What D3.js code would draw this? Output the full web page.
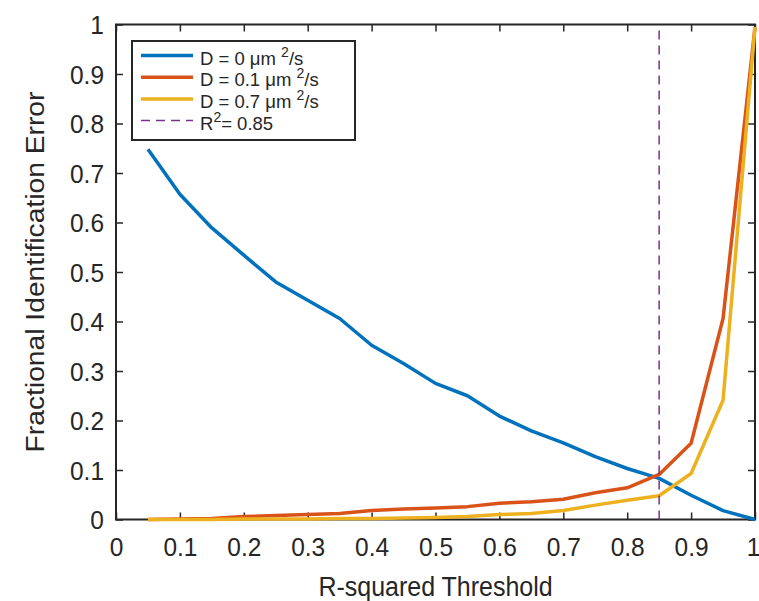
<!DOCTYPE html>
<html>
<head>
<meta charset="utf-8">
<script src="https://cdn.jsdelivr.net/npm/d3@7"></script>
<style>
  body { margin: 0; background: #fff; }
  svg { font-family: "Liberation Sans", Arial, sans-serif; }
</style>
</head>
<body>
<svg id="chart" width="759" height="601"></svg>
<script>
// thresholds and series
const thresholds = [0.05, 0.1, 0.15, 0.2, 0.25, 0.3, 0.35, 0.4, 0.45, 0.5,
  0.55, 0.6, 0.65, 0.7, 0.75, 0.8, 0.85, 0.9, 0.95, 1.0];
const errD0 = [0.748, 0.657, 0.589, 0.534, 0.480, 0.443, 0.406, 0.352, 0.315, 0.275,
  0.250, 0.209, 0.179, 0.155, 0.127, 0.103, 0.083, 0.049, 0.018, 0.0];
const errD01 = [0.0, 0.001, 0.002, 0.006, 0.008, 0.010, 0.012, 0.018, 0.021, 0.023,
  0.026, 0.033, 0.036, 0.041, 0.054, 0.064, 0.091, 0.154, 0.406, 0.995];
const errD07 = [0.0, 0.0, 0.0, 0.001, 0.001, 0.001, 0.002, 0.002, 0.003, 0.004,
  0.006, 0.010, 0.012, 0.018, 0.029, 0.039, 0.048, 0.093, 0.241, 0.995];
const cutoff = 0.85;
const xTicks = [0, 0.1, 0.2, 0.3, 0.4, 0.5, 0.6, 0.7, 0.8, 0.9, 1];
const yTicks = [0, 0.1, 0.2, 0.3, 0.4, 0.5, 0.6, 0.7, 0.8, 0.9, 1];

const series = [
  { name: 'D = 0 μm', values: errD0, color: '#0072BD' },
  { name: 'D = 0.1 μm', values: errD01, color: '#D95319' },
  { name: 'D = 0.7 μm', values: errD07, color: '#EDB120' }
];

const svg = d3.select('#chart');
const ink = '#262626';
const kTick = 1.08;  // the picture's text is a bit taller than it is wide
const kLabel = 1.13;
const x = d3.scaleLinear([0, 1], [116, 755]);
const y = d3.scaleLinear([0, 1], [519.5, 24.5]);
const fmt = d => d === 0 || d === 1 ? String(d) : d3.format('.1f')(d);

/*
Axes, MATLAB style: ticks inside on all four sides.
*/
const axBottom = svg.append('g')
  .attr('transform', `translate(0,${y(0)})`)
  .call(d3.axisBottom(x).tickValues(xTicks).tickFormat(fmt).tickSizeInner(-7).tickSizeOuter(0));
const axLeft = svg.append('g')
  .attr('transform', `translate(${x(0)},0)`)
  .call(d3.axisLeft(y).tickValues(yTicks).tickFormat(fmt).tickSizeInner(-7).tickSizeOuter(0));
const axTop = svg.append('g')
  .attr('transform', `translate(0,${y(1)})`)
  .call(d3.axisTop(x).tickValues(xTicks).tickFormat('').tickSizeInner(-7).tickSizeOuter(0));
const axRight = svg.append('g')
  .attr('transform', `translate(${x(1)},0)`)
  .call(d3.axisRight(y).tickValues(yTicks).tickFormat('').tickSizeInner(-7).tickSizeOuter(0));

[axBottom, axLeft, axTop, axRight].forEach(g => {
  g.select('.domain').remove();
  g.selectAll('line').attr('stroke', ink).attr('stroke-width', 1.5);
  g.selectAll('text').attr('fill', ink).style('font-size', '24.5px')
    .style('font-family', '"Liberation Sans", Arial, sans-serif');
});
axBottom.selectAll('text')
  .attr('dy', 0).attr('y', 36.5 / kTick)
  .attr('transform', `scale(1,${kTick})`);
axBottom.selectAll('.tick').filter(d => d === 1).select('text').attr('dx', -2);
axLeft.selectAll('text')
  .attr('x', -12).attr('dy', 0).attr('y', 9 / kTick)
  .attr('transform', `scale(1,${kTick})`);

svg.append('rect')
  .attr('x', x(0)).attr('y', y(1))
  .attr('width', x(1) - x(0)).attr('height', y(0) - y(1))
  .attr('fill', 'none').attr('stroke', ink).attr('stroke-width', 2);

/*
Lines.
*/
const line = d3.line()
  .x((d, i) => x(thresholds[i]))
  .y(d => y(d));

svg.selectAll('path.series')
  .data(series)
  .join('path')
  .attr('class', 'series')
  .attr('fill', 'none')
  .attr('stroke', d => d.color)
  .attr('stroke-width', 3.5)
  .attr('stroke-linejoin', 'round')
  .attr('d', d => line(d.values));

svg.append('line')
  .attr('x1', x(cutoff)).attr('x2', x(cutoff))
  .attr('y1', y(0)).attr('y2', y(1))
  .attr('stroke', '#7E2F8E').attr('stroke-width', 1.5)
  .attr('stroke-dasharray', '9,6');

/*
Axis labels.
*/
svg.append('text')
  .attr('transform', `translate(${(x(0) + x(1)) / 2},596) scale(1,${kLabel})`)
  .attr('text-anchor', 'middle').attr('fill', ink)
  .style('font-size', '25px')
  .text('R-squared Threshold');

svg.append('text')
  .attr('transform', `translate(44,${(y(0) + y(1)) / 2}) scale(1,${kLabel}) rotate(-90)`)
  .attr('text-anchor', 'middle').attr('fill', ink)
  .style('font-size', '25px')
  .text('Fractional Identification Error');

/*
Legend.
*/
const legend = svg.append('g').attr('transform', 'translate(132,41)');
legend.append('rect')
  .attr('width', 223).attr('height', 99)
  .attr('fill', '#fff').attr('stroke', ink).attr('stroke-width', 2);

const rowY = i => 14.5 + i * 21.7;
const legendItems = legend.selectAll('g.item')
  .data(series)
  .join('g')
  .attr('class', 'item')
  .attr('transform', (d, i) => `translate(0,${rowY(i)})`);
legendItems.append('line')
  .attr('x1', 9).attr('x2', 61)
  .attr('stroke', d => d.color).attr('stroke-width', 3.5);
const lt = legendItems.append('text')
  .attr('x', 68).attr('y', 9).attr('fill', ink)
  .style('font-size', '18.5px');
lt.append('tspan').text(d => d.name + ' ');
lt.append('tspan').attr('dy', -8).style('font-size', '14px').text('2');
lt.append('tspan').attr('dy', 8).text('/s');

const cut = legend.append('g').attr('transform', `translate(0,${rowY(3)})`);
cut.append('line')
  .attr('x1', 9).attr('x2', 61)
  .attr('stroke', '#7E2F8E').attr('stroke-width', 1.5)
  .attr('stroke-dasharray', '9,6');
const ct = cut.append('text').attr('x', 68).attr('y', 9).attr('fill', ink).style('font-size', '18.5px');
ct.append('tspan').text('R');
ct.append('tspan').attr('dy', -8).style('font-size', '14px').text('2');
ct.append('tspan').attr('dy', 8).text('= ' + cutoff);
</script>
</body>
</html>
